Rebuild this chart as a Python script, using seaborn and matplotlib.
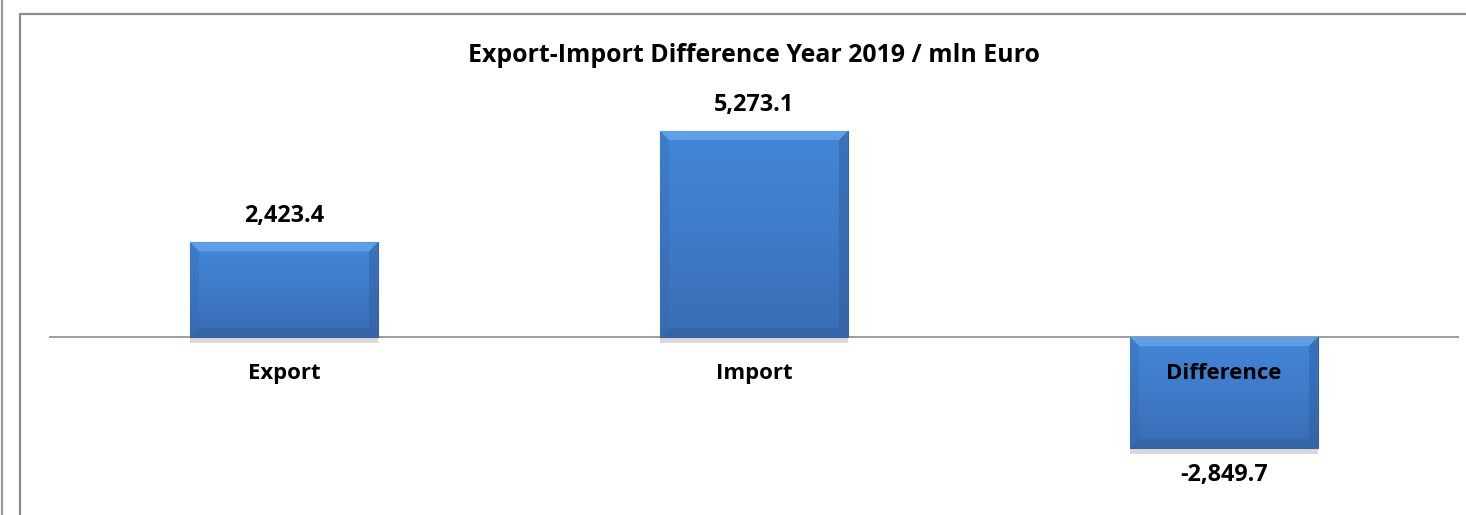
import numpy as np
import pandas as pd
import seaborn as sns
import matplotlib.pyplot as plt
from matplotlib.lines import Line2D
from matplotlib.patches import Polygon
from matplotlib.transforms import IdentityTransform
from matplotlib.colors import LinearSegmentedColormap
import matplotlib.patheffects as pe

# chart data
categories = ["Export", "Import", "Difference"]
values = [2423.4, 5273.1, -2849.7]
value_labels = ["2,423.4", "5,273.1", "-2,849.7"]
title = "Export-Import Difference Year 2019 / mln Euro"

df = pd.DataFrame({"cat": categories, "val": values})

sns.set_style("white")
plt.rcParams["font.family"] = ["Open Sans", "DejaVu Sans"]

fig = plt.figure(figsize=(14.66, 5.15), dpi=100)
ax = fig.add_axes([49 / 1466, 15 / 515, 1410 / 1466, 400 / 515])

sns.barplot(data=df, x="cat", y="val", color="#3F7DCC", width=0.4,
            edgecolor="#3A64A0", linewidth=0.8, ax=ax, zorder=3)

ax.set_xlim(-0.5, 2.5)
ax.set_ylim(-4173, 6067)
fig.canvas.draw()

# gradient fill, bevel and soft shadow on the bars
grad = np.linspace(0, 1, 100).reshape(-1, 1)
cmap = LinearSegmentedColormap.from_list("b", ["#4386D7", "#3F7BC8", "#3A6DB4"])
for p in ax.patches:
    x0, y0 = p.get_x(), p.get_y()
    w, h = p.get_width(), p.get_height()
    ylo, yhi = min(y0, y0 + h), max(y0, y0 + h)
    p.set_path_effects([pe.SimplePatchShadow(offset=(0, -4), shadow_rgbFace="#000000", alpha=0.15),
                        pe.Normal()])
    im = ax.imshow(grad, extent=[x0, x0 + w, ylo, yhi], aspect="auto", cmap=cmap,
                   origin="upper", zorder=4)
    im.set_clip_path(p)
    # bevel in pixel space
    (l, b), (r, t) = ax.transData.transform([(x0, ylo), (x0 + w, yhi)])
    d = 9
    bands = [
        ([(l, t), (r, t), (r - d, t - d), (l + d, t - d)], "#6AA8EE", 0.75),
        ([(l, b), (r, b), (r - d, b + d), (l + d, b + d)], "#2C5790", 0.35),
        ([(l, b), (l, t), (l + d, t - d), (l + d, b + d)], "#3466AA", 0.3),
        ([(r, b), (r, t), (r - d, t - d), (r - d, b + d)], "#2B5896", 0.4),
    ]
    for pts, col, a in bands:
        poly = Polygon(pts, closed=True, facecolor=col, edgecolor="none", alpha=a,
                       transform=IdentityTransform(), zorder=5)
        ax.add_artist(poly)

ax.axhline(0, color="#8C8C8C", lw=1.2, zorder=2)

for i, (v, lab) in enumerate(zip(values, value_labels)):
    off = 26 if v > 0 else -27
    ax.annotate(lab, xy=(i, v), xytext=(0, off), textcoords="offset pixels",
                ha="center", va="center", fontsize=16.8, fontweight="bold",
                color="black", zorder=6)
    ax.annotate(categories[i], xy=(i, 0), xytext=(0, -37), textcoords="offset pixels",
                ha="center", va="center", fontsize=15.9, fontweight="bold",
                color="black", zorder=6)

ax.axis("off")

fig.text(754 / 1466, 1 - 56 / 515, title, ha="center", va="center",
         fontsize=17.9, fontweight="bold", color="black")

# outer frame lines
fig.add_artist(Line2D([1.5 / 1466, 1.5 / 1466], [0, 1], color="#999999", lw=1.6))
fig.add_artist(Line2D([20 / 1466, 20 / 1466], [0, 1 - 14 / 515], color="#8C8C8C", lw=1.6))
fig.add_artist(Line2D([20 / 1466, 1], [1 - 14 / 515, 1 - 14 / 515], color="#8C8C8C", lw=1.6))

fig.savefig("out.png", dpi=100)
